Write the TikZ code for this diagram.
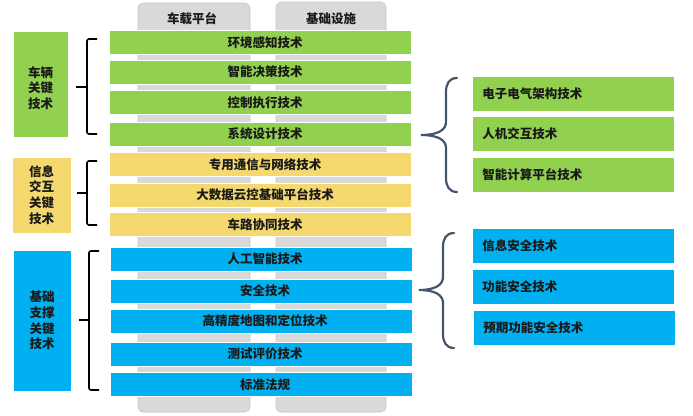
\documentclass[tikz,border=0pt]{standalone}
\usepackage{fontspec}
\newfontfamily\cjk{Noto Sans CJK SC}
\definecolor{cgreen}{HTML}{92D050}
\definecolor{cyellow}{HTML}{F6D96E}
\definecolor{cblue}{HTML}{00B0F0}
\definecolor{cgray}{HTML}{D9D9D9}
\definecolor{cgrayb}{HTML}{C6C6C6}
\definecolor{cbrace}{HTML}{44546A}
\definecolor{ctext}{HTML}{1A1A1A}
\tikzset{
  txt/.style={font=\cjk\bfseries\fontsize{12.5}{15.7}\selectfont, text=ctext},
  column/.style={draw=cgrayb, fill=cgray, rounded corners=5pt, line width=0.6pt},
  bar/.style={txt, minimum width=302pt, minimum height=24pt, inner sep=0pt, draw=white, line width=0.5pt},
  gbar/.style={bar, fill=cgreen},
  ybar/.style={bar, fill=cyellow},
  bbar/.style={bar, fill=cblue},
  sidebox/.style={txt, inner sep=0pt, align=center, draw=white, line width=0.5pt},
  rbox/.style={txt, text width=182pt, inner xsep=10pt, inner ysep=0pt, minimum height=35pt, align=left, draw=white, line width=0.5pt},
  sqbr/.style={draw=black, line width=1.6pt, rounded corners=2pt},
  curly/.style={draw=cbrace, line width=2.2pt, line cap=round},
}
\begin{document}
\begin{tikzpicture}[x=1pt, y=-1pt]
\useasboundingbox (0,0) rectangle (693,415);
% columns
\draw[column] (138,3) rectangle (250,412);
\draw[column] (276,2) rectangle (386,412);
\node[txt] (h1) at (192,19) {车载平台};
\node[txt] (h2) at (331,19) {基础设施};
% central bars
\node[gbar] (g1) at (260,42.5) {\hspace*{10pt}环境感知技术};
\node[gbar] (g2) at (260,72) {\hspace*{10pt}智能决策技术};
\node[gbar] (g3) at (260,102.5) {\hspace*{10pt}控制执行技术};
\node[gbar] (g4) at (260,134) {\hspace*{10pt}系统设计技术};
\node[ybar] (y1) at (260,164.5) {\hspace*{10pt}专用通信与网络技术};
\node[ybar] (y2) at (260,195) {\hspace*{10pt}大数据云控基础平台技术};
\node[ybar] (y3) at (260,224.5) {\hspace*{10pt}车路协同技术};
\node[bbar] (b1) at (261.5,259) {\hspace*{7pt}人工智能技术};
\node[bbar] (b2) at (261.5,291) {\hspace*{7pt}安全技术};
\node[bbar] (b3) at (261.5,321) {\hspace*{7pt}高精度地图和定位技术};
\node[bbar] (b4) at (261.5,354) {\hspace*{7pt}测试评价技术};
\node[bbar] (b5) at (261.5,384.5) {\hspace*{7pt}标准法规};
% left boxes
\node[sidebox, fill=cgreen, minimum width=55pt, minimum height=106pt,
  label={[txt, align=center, yshift=-4pt]center:{车辆\\关键\\技术}}] (lg) at (40.5,84) {};
\node[sidebox, fill=cyellow, minimum width=59pt, minimum height=76pt] (ly) at (41.5,195) {信息\\交互\\关键\\技术};
\node[sidebox, fill=cblue, minimum width=58pt, minimum height=141pt] (lb) at (42,320.5) {基础\\支撑\\关键\\技术};
% left brackets
\draw[sqbr] (97,39) -- (87,39) -- (87,134) -- (97,134);
\draw[sqbr] (76,87) -- (87,87);
\draw[sqbr] (97,161) -- (87,161) -- (87,225) -- (97,225);
\draw[sqbr] (77,193) -- (87,193);
\draw[sqbr] (99,251) -- (89,251) -- (89,390) -- (99,390);
\draw[sqbr] (79,320) -- (89,320);
% right boxes
\node[rbox, fill=cgreen, anchor=north west] (r1) at (472,76) {电子电气架构技术};
\node[rbox, fill=cgreen, anchor=north west] (r2) at (472,116) {人机交互技术};
\node[rbox, fill=cgreen, anchor=north west] (r3) at (472,157) {智能计算平台技术};
\node[rbox, fill=cblue, anchor=north west] (r4) at (472,228) {信息安全技术};
\node[rbox, fill=cblue, anchor=north west] (r5) at (472,269) {功能安全技术};
\node[rbox, fill=cblue, anchor=north west] (r6) at (473,310) {预期功能安全技术};
% curly braces
\draw[curly] (457,78) .. controls (449,78) and (446,84) .. (446,92) -- (446,122)
  .. controls (446,130) and (438,135) .. (421,135)
  .. controls (438,135) and (446,140) .. (446,148) -- (446,178)
  .. controls (446,186) and (449,192) .. (457,192);
\draw[curly] (454,233) .. controls (446,233) and (443,239) .. (443,247) -- (443,277)
  .. controls (443,285) and (435,290) .. (419,290)
  .. controls (435,290) and (443,295) .. (443,303) -- (443,334)
  .. controls (443,342) and (446,348) .. (454,348);
\end{tikzpicture}
\end{document}
